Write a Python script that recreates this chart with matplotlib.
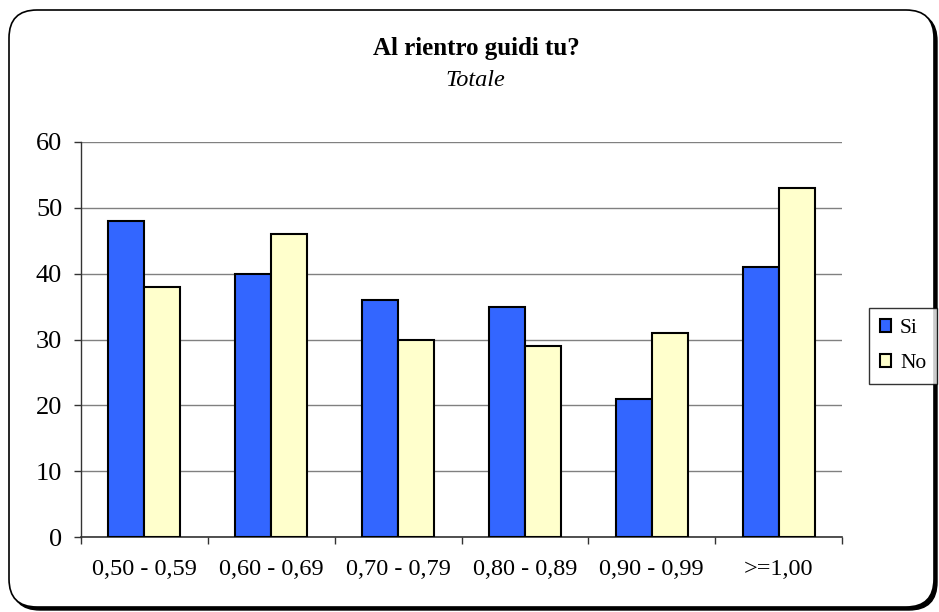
import numpy as np
import matplotlib
matplotlib.use("Agg")
import matplotlib.pyplot as plt
from matplotlib.patches import FancyBboxPatch
from matplotlib.transforms import IdentityTransform

categories = ["0,50 - 0,59", "0,60 - 0,69", "0,70 - 0,79", "0,80 - 0,89", "0,90 - 0,99", ">=1,00"]
si_values = [48, 40, 36, 35, 21, 41]
no_values = [38, 46, 30, 29, 31, 53]
y_ticks = [0, 10, 20, 30, 40, 50, 60]

plt.rcParams['font.family'] = ['Liberation Serif', 'DejaVu Serif']

W, H = 939, 612
fig = plt.figure(figsize=(W / 100, H / 100), dpi=100)
fig.patch.set_facecolor("white")

# Rounded chart frame with a drop shadow in the lower-right
shadow = FancyBboxPatch((12, 2), 925, 597, boxstyle="round,pad=0,rounding_size=28",
                        transform=IdentityTransform(), facecolor="black",
                        edgecolor="black", lw=1.0, zorder=0)
frame = FancyBboxPatch((9, 5), 925, 597, boxstyle="round,pad=0,rounding_size=28",
                       transform=IdentityTransform(), facecolor="white",
                       edgecolor="black", lw=1.2, zorder=1)
fig.patches.extend([shadow, frame])

ax = fig.add_axes([81 / W, 75 / H, 761 / W, 395 / H])
ax.set_facecolor("none")
ax.set_zorder(2)

x = np.arange(len(categories))
w = 0.284
ax.bar(x - w / 2, si_values, w, color="#3366FF", edgecolor="black", lw=1.5,
       label="Si", zorder=3)
ax.bar(x + w / 2, no_values, w, color="#FFFFCC", edgecolor="black", lw=1.5,
       label="No", zorder=3)

ax.set_xlim(-0.5, len(categories) - 0.5)
ax.set_ylim(0, 60)
ax.set_yticks(y_ticks)
ax.set_yticklabels([str(v) for v in y_ticks], fontsize=19)
ax.yaxis.grid(True, color="#808080", lw=1.0, zorder=0)
ax.set_axisbelow(True)

ax.set_xticks(x)
ax.set_xticklabels(categories, fontsize=17.5)
ax.set_xticks(np.arange(len(categories) + 1) - 0.5, minor=True)
ax.tick_params(axis="x", which="major", length=0, pad=16)
ax.tick_params(axis="x", which="minor", length=5, width=1, color="#333333", direction="out")
ax.tick_params(axis="y", length=5, width=1, color="#333333", direction="out", pad=8.5)

for side in ("top", "right"):
    ax.spines[side].set_visible(False)
ax.spines["left"].set_color("#333333")
ax.spines["bottom"].set_color("#333333")
ax.spines["left"].set_linewidth(1.0)
ax.spines["bottom"].set_linewidth(1.2)

fig.text(476 / W, 1 - 48 / H, "Al rientro guidi tu?", ha="center", va="center",
         fontsize=18, fontweight="bold")
fig.text(475 / W, 1 - 80 / H, "Totale", ha="center", va="center",
         fontsize=17.5, style="italic")

leg = fig.legend(loc="center", bbox_to_anchor=(903 / W, 1 - 346 / H), fontsize=15.5,
                 frameon=True, fancybox=False, handlelength=0.55, handleheight=0.55,
                 handletextpad=0.4, labelspacing=0.75, borderpad=0.5, borderaxespad=0)
leg.get_frame().set_edgecolor("black")
leg.get_frame().set_linewidth(1.0)
leg.set_zorder(5)

fig.savefig("out.png", dpi=100)
